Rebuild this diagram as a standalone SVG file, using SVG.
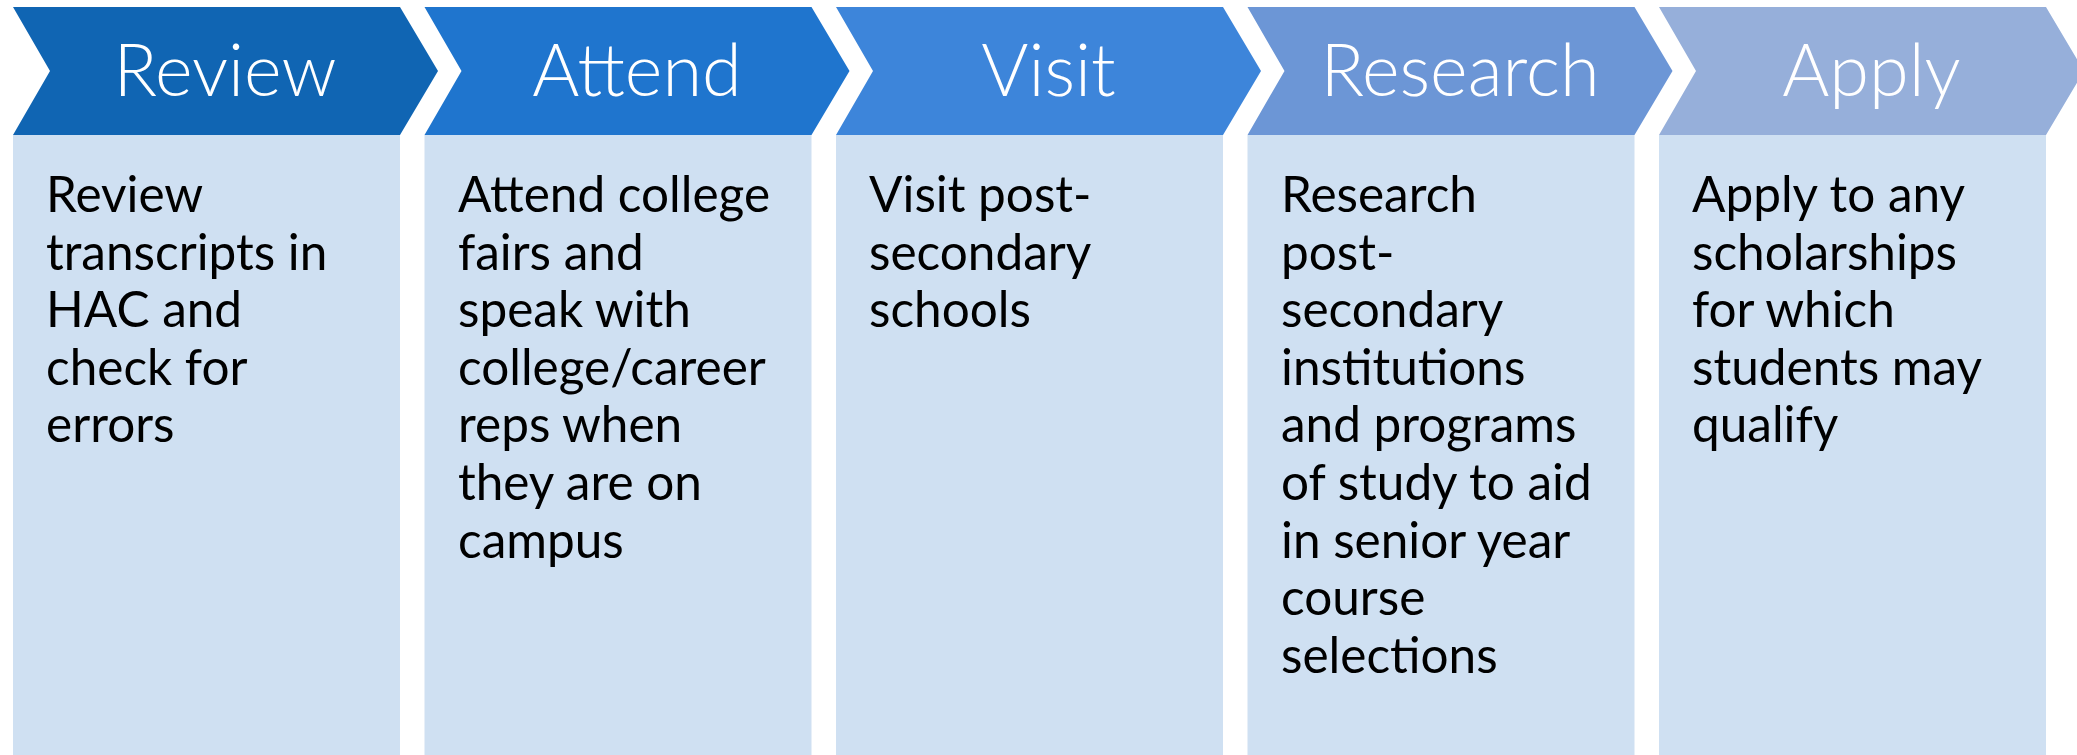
<svg xmlns="http://www.w3.org/2000/svg" width="2077" height="755" viewBox="0 0 2077 755">
<style>
.body{fill:#CFE0F2}
.hd{font-family:Lato,"Open Sans","Liberation Sans",sans-serif;font-size:72px;font-weight:300;fill:#FFFFFF;text-anchor:middle}
.tx{font-family:Lato,"Open Sans","Liberation Sans",sans-serif;font-size:49.5px;fill:#000000}
</style>
<rect width="2077" height="755" fill="#FFFFFF"/>
<g id="step-review">
<path d="M13,7 H400 L438,71 L400,135 H13 L50,71 Z" fill="#1065B3"/>
<rect class="body" x="13" y="135" width="387" height="620"/>
<text class="hd" x="225" y="96">Review</text>
<text class="tx" x="46" y="212"><tspan x="46">Review</tspan><tspan x="46" dy="57.6">transcripts in</tspan><tspan x="46" dy="57.6">HAC and</tspan><tspan x="46" dy="57.6">check for</tspan><tspan x="46" dy="57.6">errors</tspan></text>
</g>
<g id="step-attend">
<path d="M424.5,7 H811.5 L849.5,71 L811.5,135 H424.5 L461.5,71 Z" fill="#1F75CE"/>
<rect class="body" x="424.5" y="135" width="387" height="620"/>
<text class="hd" x="637" y="96">Attend</text>
<text class="tx" x="458" y="212"><tspan x="458">Attend college</tspan><tspan x="458" dy="57.6">fairs and</tspan><tspan x="458" dy="57.6">speak with</tspan><tspan x="458" dy="57.6">college/career</tspan><tspan x="458" dy="57.6">reps when</tspan><tspan x="458" dy="57.6">they are on</tspan><tspan x="458" dy="57.6">campus</tspan></text>
</g>
<g id="step-visit">
<path d="M836,7 H1223 L1261,71 L1223,135 H836 L873,71 Z" fill="#3D85DA"/>
<rect class="body" x="836" y="135" width="387" height="620"/>
<text class="hd" x="1048.5" y="96">Visit</text>
<text class="tx" x="869" y="212"><tspan x="869">Visit post-</tspan><tspan x="869" dy="57.6">secondary</tspan><tspan x="869" dy="57.6">schools</tspan></text>
</g>
<g id="step-research">
<path d="M1247.5,7 H1634.5 L1672.5,71 L1634.5,135 H1247.5 L1284.5,71 Z" fill="#6C96D6"/>
<rect class="body" x="1247.5" y="135" width="387" height="620"/>
<text class="hd" x="1460" y="96">Research</text>
<text class="tx" x="1281" y="212"><tspan x="1281">Research</tspan><tspan x="1281" dy="57.6">post-</tspan><tspan x="1281" dy="57.6">secondary</tspan><tspan x="1281" dy="57.6">institutions</tspan><tspan x="1281" dy="57.6">and programs</tspan><tspan x="1281" dy="57.6">of study to aid</tspan><tspan x="1281" dy="57.6">in senior year</tspan><tspan x="1281" dy="57.6">course</tspan><tspan x="1281" dy="57.6">selections</tspan></text>
</g>
<g id="step-apply">
<path d="M1659,7 H2046 L2084,71 L2046,135 H1659 L1696,71 Z" fill="#96AFDA"/>
<rect class="body" x="1659" y="135" width="387" height="620"/>
<text class="hd" x="1871.5" y="96">Apply</text>
<text class="tx" x="1692" y="212"><tspan x="1692">Apply to any</tspan><tspan x="1692" dy="57.6">scholarships</tspan><tspan x="1692" dy="57.6">for which</tspan><tspan x="1692" dy="57.6">students may</tspan><tspan x="1692" dy="57.6">qualify</tspan></text>
</g>
<g id="connectors"/>
</svg>
